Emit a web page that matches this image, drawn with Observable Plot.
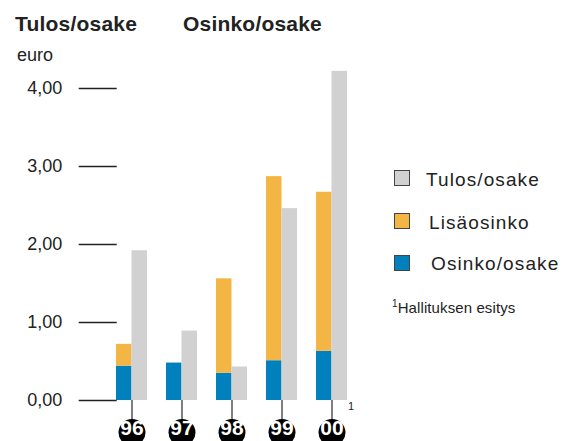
<!DOCTYPE html>
<html>
<head>
<meta charset="utf-8">
<script src="https://cdn.jsdelivr.net/npm/d3@7"></script>
<script src="https://cdn.jsdelivr.net/npm/@observablehq/plot@0.6"></script>
<style>
  html, body { margin: 0; padding: 0; background: #fff; }
  #wrap { position: relative; width: 567px; height: 441px; overflow: hidden; font-family: "Liberation Sans", Arial, sans-serif; color: #222; }
  #wrap svg { position: absolute; left: 0; top: 0; }
  .t { position: absolute; white-space: nowrap; line-height: 1; }
  .title { font-weight: bold; font-size: 21px; top: 13px; letter-spacing: 0.2px; }
  .sw { position: absolute; left: 394px; width: 14px; height: 14px; border: 1px solid #444; }
  .lg { font-size: 19px; letter-spacing: 1.1px; }
</style>
</head>
<body>
<div id="wrap"></div>
<script>
const years = ["96", "97", "98", "99", "00"];
const osinko = [0.44, 0.48, 0.35, 0.51, 0.63];
const lisaosinko = [0.28, 0, 1.21, 2.36, 2.04];
const tulos = [1.92, 0.89, 0.43, 2.46, 4.22];
const yTicks = [0, 1, 2, 3, 4];
const yTickLabels = ["0,00", "1,00", "2,00", "3,00", "4,00"];
const seriesNames = ["Tulos/osake", "Lisäosinko", "Osinko/osake"];
const seriesColors = ["#d1d1d1", "#f3b544", "#0080bd"];
const titles = ["Tulos/osake", "Osinko/osake"];
const unitLabel = "euro";
const noteYear = "00";
const noteMark = "1";
const noteText = "Hallituksen esitys";

const dividendRows = years.flatMap((y, i) => [
  {year: y, series: "Osinko/osake", value: osinko[i]},
  {year: y, series: "Lisäosinko", value: lisaosinko[i]}
]);
const earningsRows = years.map((y, i) => ({year: y, series: "Tulos/osake", value: tulos[i]}));
const yearRows = years.map(y => ({year: y}));

const half = 15.5;

const chart = Plot.plot({
  width: 567,
  height: 441,
  marginLeft: 97,
  marginRight: 200.3,
  marginTop: 10,
  marginBottom: 41,
  style: {fontFamily: "Liberation Sans, Arial, sans-serif", background: "transparent"},
  x: {type: "band", domain: years, padding: 0.38},
  y: {domain: [0, 5]},
  color: {domain: seriesNames, range: seriesColors},
  marks: [
    Plot.barY(dividendRows, {x: "year", y: "value", fill: "series", insetRight: half, insetLeft: 0}),
    Plot.barY(earningsRows, {x: "year", y: "value", fill: "series", insetLeft: half, insetRight: 0}),
    Plot.axisY({
      ticks: yTicks,
      tickFormat: d => yTickLabels[yTicks.indexOf(d)],
      tickSize: 38,
      tickPadding: 17,
      dx: 19.7,
      fontSize: 18,
      letterSpacing: 0.6,
      color: "#222",
      strokeWidth: 1.3,
      label: null
    }),
    Plot.axisX({
      tickSize: 20,
      tickFormat: () => "",
      stroke: "#555",
      strokeWidth: 1.5,
      label: null
    }),
    Plot.dot(yearRows, {x: "year", frameAnchor: "bottom", dy: 32, r: 13.5, fill: "#000", stroke: null}),
    Plot.text(yearRows, {x: "year", text: "year", frameAnchor: "bottom", dy: 34.5, fill: "#fff", fontSize: 21, fontWeight: "bold", letterSpacing: -0.9}),
    Plot.text([{year: noteYear, t: noteMark}], {x: "year", text: "t", frameAnchor: "bottom", dx: 19, dy: 9, fontSize: 11, fill: "#222"})
  ]
});

const wrap = document.getElementById("wrap");
wrap.appendChild(chart);

function addText(cls, text, left, top, extra) {
  const d = document.createElement("div");
  d.className = "t " + cls;
  d.style.left = left + "px";
  d.style.top = top + "px";
  if (extra) Object.assign(d.style, extra);
  d.textContent = text;
  wrap.appendChild(d);
  return d;
}

addText("title", titles[0], 15, 13);
addText("title", titles[1], 183, 13);
addText("", unitLabel, 17, 45.5, {fontSize: "18px"});

const legendTops = [170, 212.5, 255];
const legendTextLeft = [426, 429, 431];
const legendTextTops = [170, 213, 254];
seriesNames.forEach((name, i) => {
  const s = document.createElement("div");
  s.className = "sw";
  s.style.top = legendTops[i] + "px";
  s.style.background = seriesColors[i];
  wrap.appendChild(s);
  addText("lg", name, legendTextLeft[i], legendTextTops[i]);
});

const fn = addText("", "", 392, 299, {fontSize: "15px", letterSpacing: "0.1px"});
const sup = document.createElement("sup");
sup.textContent = noteMark;
sup.style.fontSize = "10px";
fn.appendChild(sup);
fn.appendChild(document.createTextNode(noteText));
</script>
</body>
</html>
